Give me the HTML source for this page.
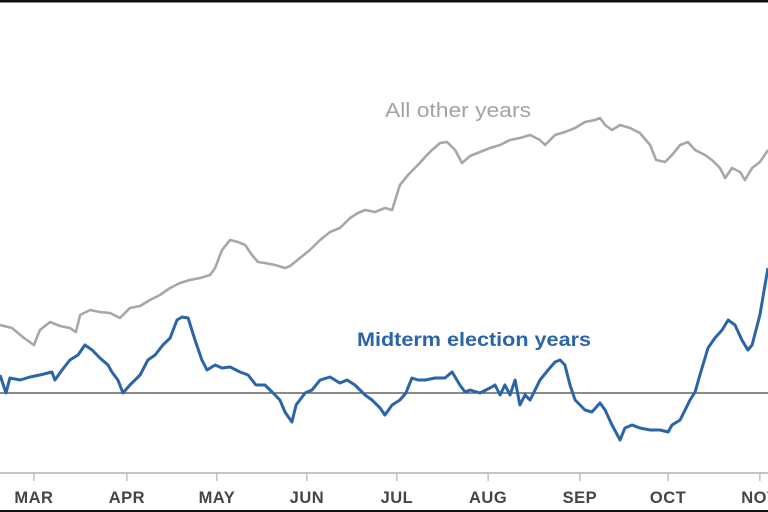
<!DOCTYPE html>
<html><head><meta charset="utf-8"><style>
html,body{margin:0;padding:0;background:#fff;}
svg{display:block;font-family:"Liberation Sans",sans-serif;}
</style></head><body>
<svg id="chart" width="768" height="512" viewBox="0 0 768 512">
<rect x="0" y="0" width="768" height="2.5" fill="#111"/>
<rect x="0" y="510" width="768" height="2" fill="#111"/>
<g id="axis"></g>
<line x1="0" x2="768" id="zero" stroke="#444" stroke-width="1.2"/>
<path id="gray" fill="none" stroke="#a7a7a7" stroke-width="2.6" stroke-linejoin="round"/>
<path id="blue" fill="none" stroke="#2b65a8" stroke-width="3" stroke-linejoin="round"/>
<text x="385" y="117" font-size="20" fill="#a3a3a3" textLength="146" lengthAdjust="spacingAndGlyphs">All other years</text>
<text x="357" y="346" font-size="19" font-weight="bold" fill="#2b65a8" textLength="234" lengthAdjust="spacingAndGlyphs">Midterm election years</text>
</svg>
<script>
const monthLabels=["MAR","APR","MAY","JUN","JUL","AUG","SEP","OCT","NOV"];
const monthDays=[11.3,42.3,72.3,102.3,132.3,162.7,193.3,222.7,253.3];
const grayDays=[0,4,8,11.3,13.3,16.7,20,23.3,25.3,26.7,30,33.3,36.7,40,43.3,46.7,50,53.3,56.7,60,63.3,66.7,70,71.7,74,76.7,79.3,81.7,84,86,88.3,91.7,95,96.7,100,103.3,106.7,110,113.3,116.7,119.3,121.7,125,128.3,130.7,133.3,136,139.3,141.7,144,146.7,149,151.7,154,156.7,160,163.3,166.7,170,173.3,176.7,180,181.7,185,188.3,191.7,195,198.3,200,201.7,204,206.7,210,213.3,216.7,218.7,221.7,224,226.7,229.3,231.7,235,237.3,240,241.7,244,246.7,248.3,250.7,253.3,256];
const grayValues=[6.8,6.5,5.5,4.8,6.3,7.1,6.7,6.5,6.1,7.8,8.3,8.1,8.0,7.5,8.5,8.7,9.3,9.8,10.5,11.0,11.3,11.5,11.8,12.5,14.3,15.3,15.1,14.8,13.8,13.1,13.0,12.8,12.5,12.7,13.5,14.3,15.3,16.1,16.5,17.5,18.0,18.3,18.1,18.5,18.3,20.8,21.8,22.8,23.6,24.3,25.0,25.1,24.3,23.0,23.7,24.1,24.5,24.8,25.3,25.5,25.8,25.3,24.8,25.8,26.1,26.5,27.1,27.3,27.5,26.8,26.3,26.8,26.5,26.0,24.8,23.3,23.1,23.8,24.8,25.1,24.3,23.8,23.3,22.5,21.5,22.5,22.1,21.3,22.5,23.1,24.3];
const blueDays=[0,2,3.3,6.7,10,13.3,17.3,18.3,20.7,23.3,26,28.3,30.7,33.3,36,37.3,39.3,41,43.3,46.7,49.3,51.7,54.3,56.7,59,60.7,62.7,65,67.3,69,71.7,74,76.7,80,82.7,85.3,88.3,90.7,93.3,95,97.3,98.7,101.7,104,106.7,110,113.3,115.7,118.3,121.7,124,126.7,128.3,130.7,133.3,135.3,137.3,139.3,141.7,145,148.3,150.7,153.3,155,156.7,160,163.3,165,166.7,168.3,170,171.7,173.3,175,176.7,180,182.7,185,186.7,188.3,190,191.7,195,197.3,200,201.7,204,206.7,208.3,210.7,213.3,216.7,220,222.7,224,226.7,228.7,230,231.7,233.3,236,238.3,240.7,242.7,245,247.3,249.3,250.7,253.3,255,256];
const blueValues=[1.8,0,1.5,1.3,1.6,1.8,2.1,1.3,2.3,3.3,3.8,4.8,4.3,3.5,2.8,2.1,1.3,0,0.8,1.8,3.3,3.8,4.8,5.5,7.3,7.6,7.5,5.3,3.3,2.3,2.8,2.5,2.6,2.1,1.8,0.8,0.8,0.1,-0.7,-1.9,-2.9,-1.2,0,0.3,1.3,1.6,1.0,1.3,0.8,-0.2,-0.7,-1.5,-2.2,-1.2,-0.7,0,1.5,1.3,1.3,1.5,1.5,2.1,0.8,0.1,0.3,0,0.5,0.8,-0.2,0.8,-0.2,1.3,-1.2,-0.2,-0.7,1.3,2.3,3.1,3.3,2.8,0.8,-0.7,-1.7,-1.9,-1.0,-1.7,-3.2,-4.7,-3.5,-3.2,-3.5,-3.7,-3.7,-3.9,-3.2,-2.7,-1.5,-0.7,0.1,1.8,4.5,5.5,6.3,7.3,6.8,5.3,4.3,4.8,7.8,10.8,12.5];

const xS=d=>d*3;
const yS=v=>393-v*10;
const NS="http://www.w3.org/2000/svg";
function pathFrom(days,vals){return days.map((d,i)=>(i?"L":"M")+xS(d).toFixed(1)+","+yS(vals[i]).toFixed(1)).join("");}
document.getElementById('gray').setAttribute('d',pathFrom(grayDays,grayValues));
document.getElementById('blue').setAttribute('d',pathFrom(blueDays,blueValues));
const z=document.getElementById('zero');z.setAttribute('y1',yS(0));z.setAttribute('y2',yS(0));
const ax=document.getElementById('axis');
const base=document.createElementNS(NS,'line');


base.setAttribute('x1',0);base.setAttribute('x2',768);base.setAttribute('y1',473);base.setAttribute('y2',473);
base.setAttribute('stroke','#b0b0b0');base.setAttribute('stroke-width','1.5');ax.appendChild(base);
monthDays.forEach((d,i)=>{
  const t=document.createElementNS(NS,'line');
  
  
  t.setAttribute('x1',xS(d));t.setAttribute('x2',xS(d));t.setAttribute('y1',473);t.setAttribute('y2',481);
  t.setAttribute('stroke','#b0b0b0');t.setAttribute('stroke-width','1.2');ax.appendChild(t);
  const l=document.createElementNS(NS,'text');
  
  
  l.setAttribute('x',xS(d));l.setAttribute('y',503);l.setAttribute('text-anchor','middle');
  l.setAttribute('font-size','16.5');l.setAttribute('font-weight','bold');l.setAttribute('fill','#454545');
  l.setAttribute('letter-spacing','0.5');
  l.textContent=monthLabels[i];ax.appendChild(l);
});
</script>
</body></html>
